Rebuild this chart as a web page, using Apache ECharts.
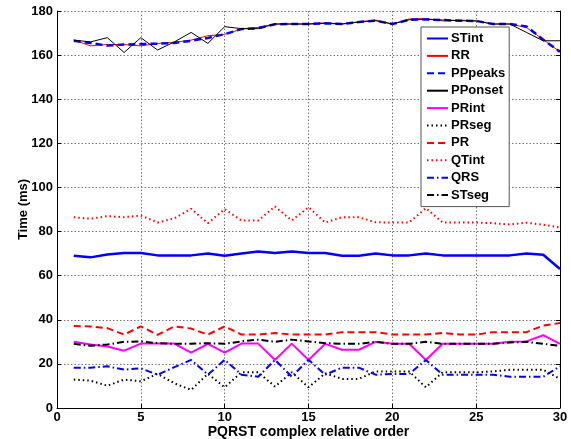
<!DOCTYPE html>
<html><head><meta charset="utf-8">
<script src="https://cdn.jsdelivr.net/npm/echarts@6/dist/echarts.min.js"></script>
<style>html,body{margin:0;padding:0;background:#fff}#c{width:571px;height:439px}</style>
</head><body><div id="c"></div>
<script>
const order = [1,2,3,4,5,6,7,8,9,10,11,12,13,14,15,16,17,18,19,20,21,22,23,24,25,26,27,28,29,30];
const xTicks = [0,5,10,15,20,25,30];
const yTicks = [0,20,40,60,80,100,120,140,160,180];
const STint  = [69,68.3,69.6,70.3,70.3,69.2,69.2,69.2,70,69,70,71,70.3,71,70.3,70.3,69,69,70,69.2,69.2,70,69.2,69.2,69.2,69.2,69.2,70,69.5,63];
const RR     = [166.8,164.2,164.8,164.8,164.2,165.3,165.8,166.8,168.8,169.4,171.8,172.6,174.1,174.1,174.1,174.7,174.1,175.1,175.9,174.1,176.4,176.6,175.5,175.9,175.5,174.1,174.1,172.5,167,161.5];
const PPpeaks= [166.5,165.5,164.3,164.8,165,165.2,165.5,166.5,167.8,169.5,171.8,172.2,174,174.1,174.1,174.4,174.1,175,175.6,174.1,176,176.2,175.9,175.6,175.5,174.1,174.1,173,167,161.5];
const PPonset= [166.8,166,167.9,161.2,167.9,162.3,166,170.3,165.3,172.9,172,172,174.1,174.1,174.1,174.4,174.1,175,175.6,174.1,176,176.2,175.9,175.6,175.5,174.1,174.1,170.3,166.5,166.5];
const PRint  = [30,28.8,27.9,26,29.2,29.2,29.2,25.1,29.1,25.1,29.2,29.2,21.8,29.2,21.8,29.1,26.4,26.4,30,29.1,29.1,21.8,29.1,29.1,29.1,29.1,30,30.2,33,29.1];
const PRseg  = [12.9,12.4,10.1,12.9,12.1,15.5,11.2,8.2,15.5,9.4,16.2,16.2,9.7,16.2,9.4,15.7,13.2,13.2,16.6,16.6,16.6,9.4,16.2,16.2,16.2,16.6,17.3,17.3,17.3,13.2];
const PR     = [37.2,37,36.2,33.3,37,33.2,37,36,33.3,37,33.3,33.3,34,33.3,33.3,33.3,34.4,34.4,34.4,33.3,33.3,33.3,34,33.3,33.3,34.4,34.4,34.4,37.4,38.5];
const QTint  = [86.5,85.8,87,86.5,87.3,84.1,86,90.3,83.8,90.2,85,85,91.4,85,91,84.1,86.5,86.5,84.2,84.1,84.1,90.6,84.1,84.1,84.1,83.8,83.2,84,83.1,81.8];
const QRS    = [18.3,18.3,18.9,17.4,18,15.1,18.5,21.8,15.1,21.9,15.1,14.2,21.8,14.2,21.9,15.1,18.3,18.3,15.1,15.4,15.4,21.8,15.1,15.1,15.1,15.1,14.2,14.2,14.2,18.9];
const STseg  = [29.1,28.2,28.8,30,30.2,29.4,29.1,29.1,29.4,29.1,30.2,31,30,31,30.2,29.4,29.1,29.1,30,29.1,29.1,30,29.1,29.1,29.1,29.1,29.7,30,29.1,28.2];

const pairs = arr => order.map((x,i)=>[x,arr[i]]);
function mk(name, arr, color, width, type){
  return {name, type:'line', data:pairs(arr), showSymbol:false, symbol:'none',
    lineStyle:{color, width, type}, itemStyle:{color}, animation:false, z:2};
}
const dot=[1.5,3], dashdot=[7,3,1.5,3];
const series = [
  mk('STint',STint,'#0000ff',2.5,'solid'),
  mk('RR',RR,'#ff0000',1,'solid'),
  mk('PPpeaks',PPpeaks,'#0000ff',2.5,[7,4]),
  mk('PPonset',PPonset,'#000000',1,'solid'),
  mk('PRint',PRint,'#ff00ff',2,'solid'),
  mk('PRseg',PRseg,'#000000',2,dot),
  mk('PR',PR,'#ff0000',2,[7,4]),
  mk('QTint',QTint,'#ff0000',2,dot),
  mk('QRS',QRS,'#0000ff',2,dashdot),
  mk('STseg',STseg,'#000000',2,dashdot)
];
const font = {fontFamily:'Liberation Sans, Arial, sans-serif', fontWeight:'bold', fontSize:13, color:'#000'};
const chart = echarts.init(document.getElementById('c'));
chart.setOption({
  animation:false,
  backgroundColor:'#fff',
  grid:{left:57, right:11, top:11, bottom:31, containLabel:false, outerBoundsMode:'none'},
  legend:{
    orient:'vertical', left:421, top:27, itemGap:4.4, itemWidth:21, itemHeight:13.4,
    padding:[5,4,5,5],
    backgroundColor:'#fff', borderColor:'#555', borderWidth:1,
    itemStyle:{opacity:0},
    textStyle:Object.assign({}, font, {fontSize:13, padding:[0,0,0,-2]}),
    data:series.map(s=>s.name)
  },
  xAxis:{type:'value', min:xTicks[0], max:xTicks[xTicks.length-1], interval:5,
    name:'PQRST complex relative order', nameLocation:'middle', nameGap:17, nameMoveOverlap:false,
    nameTextStyle:Object.assign({}, font, {fontSize:14}),
    axisLine:{lineStyle:{color:'#000', width:1}}, axisTick:{inside:true, length:4, lineStyle:{color:'#000'}},
    axisLabel:Object.assign({margin:3}, font),
    splitLine:{show:true, lineStyle:{color:'#777', type:[1.5,2], width:1}}
  },
  yAxis:[{type:'value', min:yTicks[0], max:yTicks[yTicks.length-1], interval:20,
    name:'Time (ms)', nameLocation:'middle', nameGap:27, nameMoveOverlap:false,
    nameTextStyle:Object.assign({}, font, {fontSize:13}),
    axisLine:{show:true, lineStyle:{color:'#000', width:1}}, axisTick:{show:true, inside:true, length:4, lineStyle:{color:'#000'}},
    axisLabel:Object.assign({margin:4}, font),
    splitLine:{show:true, lineStyle:{color:'#777', type:[1.5,2], width:1}}
  },{type:'value', position:'right', min:0, max:180, interval:20,
    axisLine:{show:true, lineStyle:{color:'#000', width:1}}, axisTick:{show:true, inside:true, length:4, lineStyle:{color:'#000'}},
    axisLabel:{show:false}, splitLine:{show:false}
  }],
  series
});
</script></body></html>
